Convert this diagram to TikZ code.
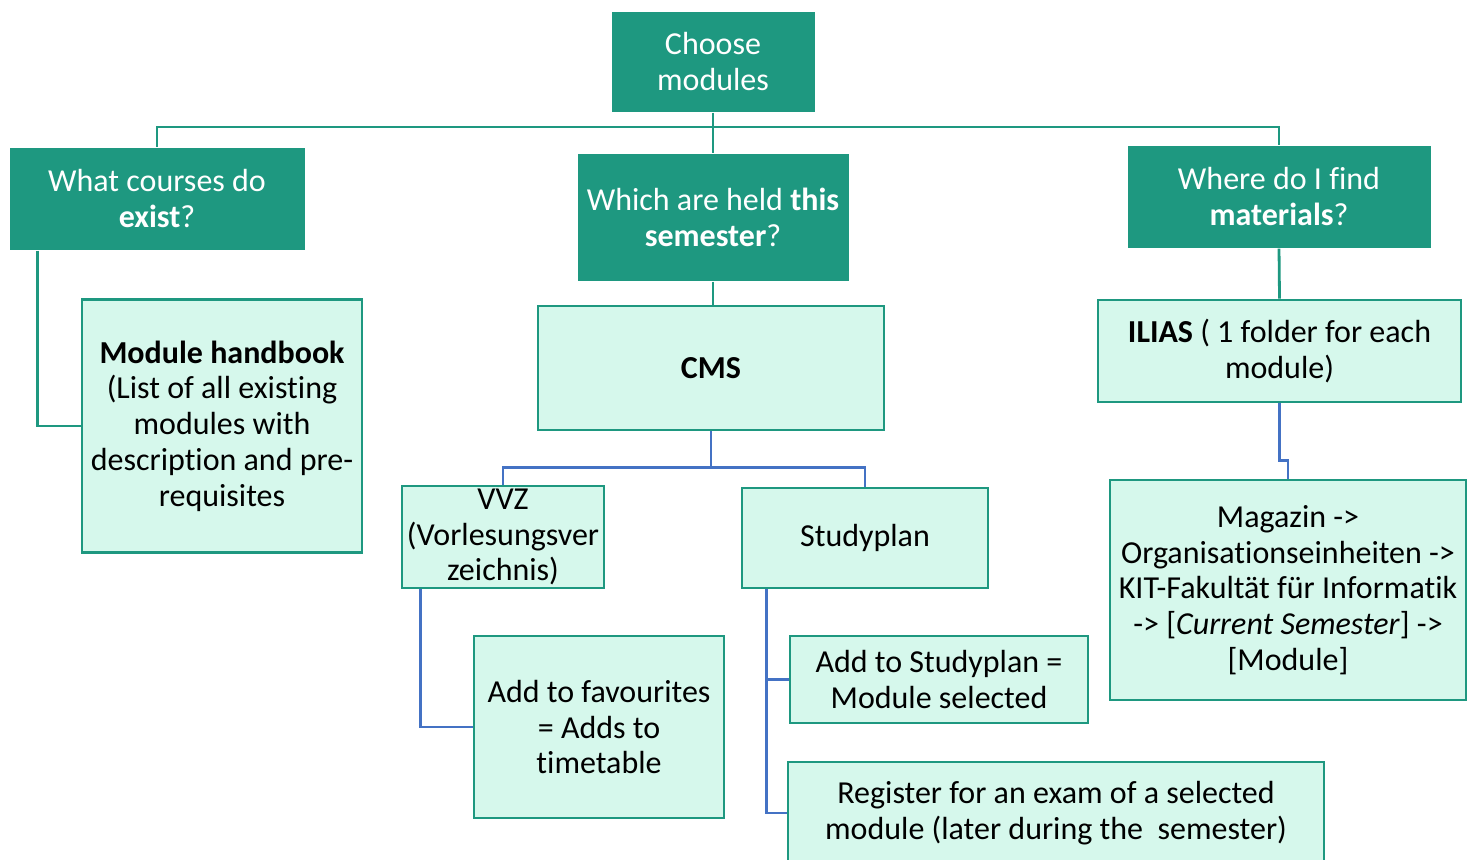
\documentclass[tikz,border=0pt]{standalone}
\usepackage{fontspec}
\setmainfont[RawFeature={-liga;-clig;-calt;-dlig}]{Carlito}
\usetikzlibrary{calc}
\definecolor{teal1}{HTML}{1E9880}
\definecolor{lite}{HTML}{D6F8EC}
\definecolor{blu}{HTML}{4472C4}
\begin{document}
\begin{tikzpicture}[x=0.5pt,y=-0.5pt,
  dark/.style={fill=teal1,draw=white,line width=0.5pt,text=white,align=center,inner sep=0pt,font=\fontsize{16}{17.9}\selectfont},
  lbox/.style={fill=lite,draw=teal1,line width=1.3pt,text=black,align=center,inner sep=0pt,font=\fontsize{16}{17.9}\selectfont},
  sz/.style 2 args={minimum width=#1*0.5pt,minimum height=#2*0.5pt},
  tl/.style={draw=teal1,line width=1.4pt},
  bl/.style={draw=blu,line width=1.4pt}]
\useasboundingbox (0,0) rectangle (1475,859);
\node[dark,sz={204}{101}] (choose) at (713,61.5) {Choose\\modules};
\node[dark,sz={296}{103}] (q1) at (157,198.5) {What courses do\\\textbf{exist}?};
\node[dark,sz={272}{128}] (q2) at (713,217) {Which are held \textbf{this}\\\textbf{semester}?};
\node[dark,sz={304}{103}] (q3) at (1279,196.5) {Where do I find\\\textbf{materials}?};
\node[lbox,sz={280}{253}] (mh) at (222,426) {\textbf{Module handbook}\\(List of all existing\\modules with\\description and pre-\\requisites};
\node[lbox,sz={346}{124}] (cms) at (711,368) {\textbf{CMS}};
\node[lbox,sz={363}{102}] (ilias) at (1279.5,351) {\textbf{ILIAS} ( 1 folder for each\\module)};
\node[lbox,sz={202}{102}] (vvz) at (503,537) {VVZ\\(Vorlesungsver\\zeichnis)};
\node[lbox,sz={246}{100}] (sp) at (865,538) {Studyplan};
\node[lbox,sz={356}{220}] (mag) at (1288,590) {Magazin ->\\Organisationseinheiten ->\\KIT-Fakultät für Informatik\\-> [\textit{Current Semester}] ->\\{}[Module]};
\node[lbox,sz={250}{182}] (fav) at (599,727) {Add to favourites\\= Adds to\\timetable};
\node[lbox,sz={298}{87}] (asp) at (939,679.5) {Add to Studyplan =\\Module selected};
\node[lbox,sz={536}{102}] (reg) at (1056,813) {Register for an exam of a selected\\module (later during the\ \ semester)};
\coordinate (bar) at (0,127);
\draw[tl] (choose.south) -- (choose.south |- bar) -| (q1.north);
\draw[tl] (choose.south |- bar) -| (q3.north);
\draw[tl] (choose.south |- bar) -- (q2.north);
\draw[tl] ($(q1.south west)+(29,0)$) |- (mh.west);
\draw[tl] (q2.south) -- (q2.south |- cms.north);
\draw[tl] (q3.south) -- (ilias.north);
\draw[bl] (cms.south) -- ++(0,36) -| (vvz.north);
\draw[bl] (cms.south) -- ++(0,36) -| (sp.north);
\draw[bl] ($(vvz.south west)+(20,0)$) |- (fav.west);
\draw[bl] ($(sp.south west)+(26,0)$) |- (asp.west);
\draw[bl] ($(sp.south west)+(26,0)$) |- (reg.west);
\draw[bl] (ilias.south) -- ++(0,57) -| (mag.north);
\end{tikzpicture}
\end{document}
